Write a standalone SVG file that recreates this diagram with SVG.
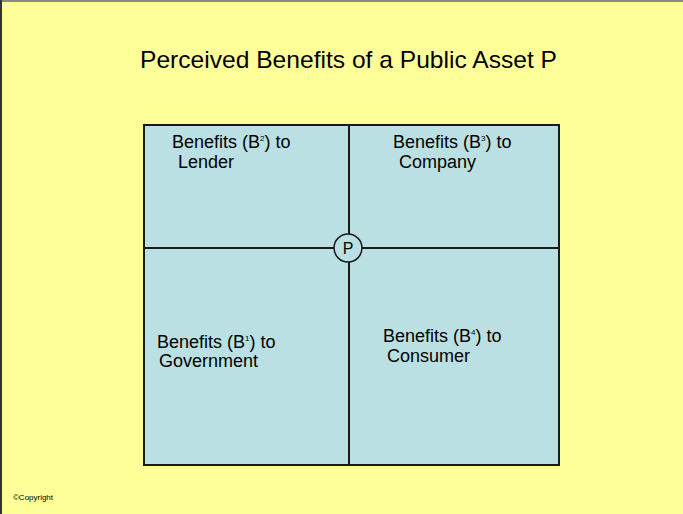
<svg xmlns="http://www.w3.org/2000/svg" width="683" height="514" viewBox="0 0 683 514">
<style>
.t{font-family:"Liberation Sans",Arial,sans-serif;fill:#000;}
.lbl{font-size:18px;}
.sup{font-size:8px;}
.q{fill:#BBE0E3;stroke:none;}
.ln{stroke:#1a1a1a;stroke-width:2;fill:none;}
</style>
<rect x="0" y="0" width="683" height="514" fill="#FFFF99"/>
<line x1="0" y1="1" x2="683" y2="1" stroke="#888" stroke-width="2"/>
<line x1="1" y1="0" x2="1" y2="514" stroke="#333" stroke-width="2"/>
<text class="t" x="348.5" y="68" font-size="24" text-anchor="middle" textLength="417" lengthAdjust="spacingAndGlyphs">Perceived Benefits of a Public Asset P</text>
<g id="quadrant-lender">
<rect class="q" x="144" y="125" width="205" height="123"/>
<text class="t lbl" x="172" y="148">Benefits (B<tspan class="sup" dy="-7">2</tspan><tspan dy="7">) to</tspan></text>
<text class="t lbl" x="178" y="168">Lender</text>
</g>
<g id="quadrant-company">
<rect class="q" x="349" y="125" width="210" height="123"/>
<text class="t lbl" x="393" y="148">Benefits (B<tspan class="sup" dy="-7">3</tspan><tspan dy="7">) to</tspan></text>
<text class="t lbl" x="399" y="168">Company</text>
</g>
<g id="quadrant-government">
<rect class="q" x="144" y="248" width="205" height="217"/>
<text class="t lbl" x="157" y="348">Benefits (B<tspan class="sup" dy="-7">1</tspan><tspan dy="7">) to</tspan></text>
<text class="t lbl" x="159" y="367">Government</text>
</g>
<g id="quadrant-consumer">
<rect class="q" x="349" y="248" width="210" height="217"/>
<text class="t lbl" x="383" y="342">Benefits (B<tspan class="sup" dy="-7">4</tspan><tspan dy="7">) to</tspan></text>
<text class="t lbl" x="387" y="362">Consumer</text>
</g>
<g id="connectors">
<rect class="ln" x="144" y="125" width="415" height="340"/>
<line class="ln" x1="349" y1="125" x2="349" y2="465"/>
<line class="ln" x1="144" y1="248" x2="559" y2="248"/>
</g>
<g id="node-P">
<circle cx="348" cy="248" r="14" fill="#BBE0E3" stroke="#1a1a1a" stroke-width="1.5"/>
<text class="t" x="348" y="254" font-size="16" text-anchor="middle">P</text>
</g>
<text class="t" x="13" y="500" font-size="7" textLength="40" lengthAdjust="spacingAndGlyphs">©Copyright</text>
</svg>
